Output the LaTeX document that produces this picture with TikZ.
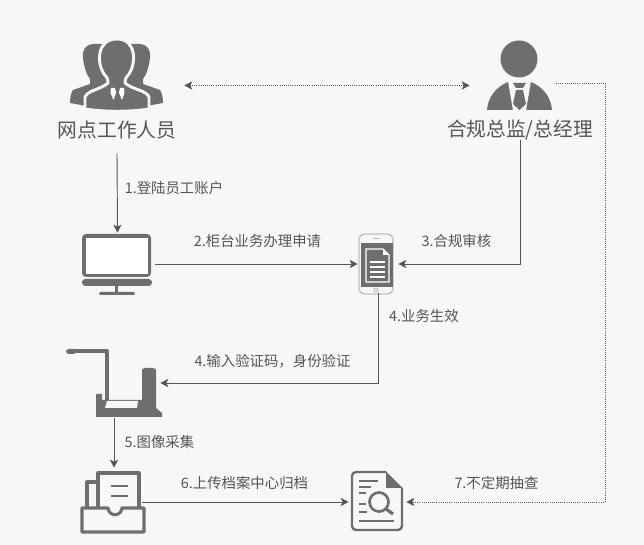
\documentclass[tikz,border=0pt]{standalone}
\usepackage{xcolor}
\usepackage{fontspec}
\setmainfont{Noto Sans CJK SC}
\usetikzlibrary{arrows.meta}
\definecolor{pagebg}{HTML}{F7F7F7}
\definecolor{icongrey}{HTML}{6E6E6E}
\definecolor{phonegrey}{HTML}{BDBDBD}
\definecolor{inkgrey}{HTML}{555555}

\begin{document}
\begin{tikzpicture}[
    x=0.75pt, y=-0.75pt,
    iconbox/.style={inner sep=0pt, minimum width=#1},
    rolename/.style={font=\fontsize{14.8pt}{16pt}\selectfont, text=inkgrey, inner sep=0pt, minimum height=13.5pt},
    steplabel/.style={font=\fontsize{10.8pt}{12pt}\selectfont, text=inkgrey, inner sep=0pt},
    flow/.style={draw=inkgrey, line width=0.7pt, -{Stealth[length=6pt, width=6pt, inset=1.5pt]}},
    audit/.style={draw=inkgrey, line width=0.6pt, densely dotted},
    solidicon/.style={fill=icongrey, draw=none},
    outlineicon/.style={draw=icongrey, line width=2.3pt, line join=round}
]
    \useasboundingbox (0,0) rectangle (644,545);
    \fill[pagebg] (0,0) rectangle (644,545);

    % Anchors of the connectors
    \node[iconbox=99.75pt, minimum height=54pt] (staff) at (117.5,85.5) {};
    \node[iconbox=64.5pt, minimum height=54pt] (manager) at (513,85.5) {};
    \node[iconbox=56.25pt, minimum height=46.5pt] (pc) at (117.5,264) {};
    \node[iconbox=30pt, minimum height=43.5pt] (phone) at (378,264) {};
    \node[iconbox=69pt, minimum height=52.5pt] (scanner) at (114,383) {};
    \node[iconbox=42pt, minimum height=51pt] (tray) at (114,502) {};
    \node[iconbox=42.75pt, minimum height=51pt] (doc) at (377.5,502) {};
    \coordinate (auditout) at (556,83);
    \coordinate (auditcorner) at (605,83);

    % Names
    \node[rolename, minimum height=34.5pt] (staffname) at (117,130) {网点工作人员};
    \node[rolename] (managername) at (520,130) {合规总监/总经理};

    % Staff icon
    \fill[solidicon] (83,58) .. controls (82,49) and (87,44) .. (93,44)
        -- (108,44) -- (110,95) -- (90,107) -- (81,105) -- (70,103)
        .. controls (70,98) and (71,93) .. (73,90)
        -- (90,84) -- (90,79) .. controls (86,74) and (84,66) .. (83,58) -- cycle;
    \fill[solidicon] (150,58) .. controls (151,49) and (146,44) .. (140,44)
        -- (125,44) -- (123,95) -- (143,107) -- (152,105) -- (163,103)
        .. controls (163,98) and (162,93) .. (160,90)
        -- (143,84) -- (143,79) .. controls (147,74) and (149,66) .. (150,58) -- cycle;
    \filldraw[fill=icongrey, draw=pagebg, line width=2.2pt, line join=round]
        (85,109) -- (85,97) .. controls (88,90) and (100,90) .. (108,83)
        .. controls (108,78) and (106,76) .. (104,74)
        .. controls (97,64) and (96,39) .. (117,39)
        .. controls (137,39) and (136,64) .. (129,74)
        .. controls (127,76) and (125,78) .. (125,83)
        .. controls (133,90) and (146,90) .. (149,97)
        -- (149,109) .. controls (130,112) and (104,112) .. (85,109) -- cycle;
    \fill[white] (111,88) -- (115,88) -- (116,93) -- (113.5,100) -- (110.5,93) -- cycle;
    \fill[white] (120,88) -- (124,88) -- (124.5,93) -- (122,100) -- (119,93) -- cycle;

    % Manager icon
    \fill[solidicon] (519,59) circle (18.5);
    \fill[solidicon] (487,110) .. controls (488,97) and (496,87) .. (508,82)
        -- (531,82) .. controls (543,87) and (551,97) .. (552,110) -- cycle;
    \fill[pagebg] (508,81) -- (531,81) -- (526,110.5) -- (513,110.5) -- cycle;
    \fill[solidicon] (513,83) -- (526,83) -- (523,88) -- (516,88) -- cycle;
    \fill[solidicon] (516,90) -- (523,90) -- (526,104) -- (519.5,110) -- (513,104) -- cycle;

    % PC icon
    \fill[solidicon, rounded corners=3pt] (82,277) -- (82,234) -- (151,234) -- (151,277) -- cycle;
    \fill[white] (86,238) rectangle (148,274);
    \fill[solidicon, rounded corners=2.5pt] (82,279) -- (152,279) -- (152,286) -- (82,286) -- cycle;
    \fill[solidicon] (115,286) rectangle (118,292);
    \fill[solidicon, rounded corners=1pt] (99,292) rectangle (135,295);

    % Phone icon
    \draw[phonegrey, line width=0.9pt, rounded corners=4pt] (359,234) rectangle (393,294);
    \fill[solidicon] (361,243) rectangle (393,287);
    \draw[phonegrey, line width=1pt] (373,238.5) -- (380,238.5);
    \draw[phonegrey, line width=0.8pt] (376,290) circle (2);
    \filldraw[fill=icongrey, draw=white, line width=0.9pt]
        (366,249) -- (383,249) -- (389,255) -- (389,282) -- (366,282) -- cycle;
    \fill[white] (383,250) -- (388,255) -- (383,255) -- cycle;
    \foreach \lineY in {261,266,271,276} {
        \fill[white] (370,\lineY) rectangle (385,\lineY+1.6);
    }

    % Scanner icon
    \fill[solidicon] (96,394) -- (102,394) -- (102,400) -- (142,400) -- (142,370)
        .. controls (142,367) and (156,367) .. (156,370)
        -- (156,408) -- (162,413) -- (162,417) -- (96,417) -- cycle;
    \fill[pagebg] (107,401) -- (138,401) -- (137,408) -- (105,408) -- cycle;
    \draw[icongrey, line width=3pt, line join=round] (70,351) -- (107,351) -- (107,400);
    \fill[solidicon, rounded corners=2pt] (66,349) rectangle (76,354);

    % Tray icon
    \draw[outlineicon] (87,508) -- (87,482) -- (98,482);
    \draw[outlineicon] (98,508) -- (98,473) -- (139,473) -- (139,508);
    \draw[outlineicon, line width=2.2pt] (111,486) -- (128,486);
    \draw[outlineicon, line width=2.2pt] (111,496) -- (128,496);
    \draw[outlineicon] (82,508) -- (108,508) .. controls (109,517) and (121,517) .. (122,508)
        -- (144,508) -- (144,532) -- (82,532) -- cycle;

    % Document icon
    \draw[outlineicon, line width=1.8pt, rounded corners=3pt] (386,472) -- (352,472) -- (352,530) -- (402,530) -- (402,488);
    \fill[solidicon] (386,471.5) -- (402.5,488) -- (386,488) -- cycle;
    \foreach \lineY/\lineEnd in {481/378, 487/371, 493/366, 504/366, 512/367, 521/394} {
        \draw[icongrey, line width=1.8pt] (359,\lineY) -- (\lineEnd,\lineY);
    }
    \draw[icongrey, line width=2pt] (379,502) circle (9.5);
    \draw[icongrey, line width=2.4pt] (386,509) -- (393,514);

    % Connectors
    \draw[audit, {Stealth[length=6pt, width=6pt, inset=1.5pt]}-{Stealth[length=6pt, width=6pt, inset=1.5pt]}] (staff.east) -- (manager.west);
    \draw[flow] (staffname.south) -- (pc.north);
    \draw[flow] (pc.east) -- (phone.west);
    \draw[flow] (managername.south) |- (phone.east);
    \draw[flow] (phone.south) |- (scanner.east);
    \draw[flow] (scanner.south) -- (tray.north);
    \draw[flow] (tray.east) -- (doc.west);
    \draw[audit, -{Stealth[length=6pt, width=6pt, inset=1.5pt]}] (auditout) -- (auditcorner) |- (doc.east);

    % Step labels
    \node[steplabel] (step1) at (174,188) {1.登陆员工账户};
    \node[steplabel] (step2) at (257.5,241) {2.柜台业务办理申请};
    \node[steplabel] (step3) at (456.5,241) {3.合规审核};
    \node[steplabel] (step4) at (424,316) {4.业务生效};
    \node[steplabel] (step4b) at (272.5,361) {4.输入验证码，身份验证};
    \node[steplabel] (step5) at (159.5,442) {5.图像采集};
    \node[steplabel] (step6) at (244.5,483) {6.上传档案中心归档};
    \node[steplabel] (step7) at (496.5,483) {7.不定期抽查};
\end{tikzpicture}
\end{document}
